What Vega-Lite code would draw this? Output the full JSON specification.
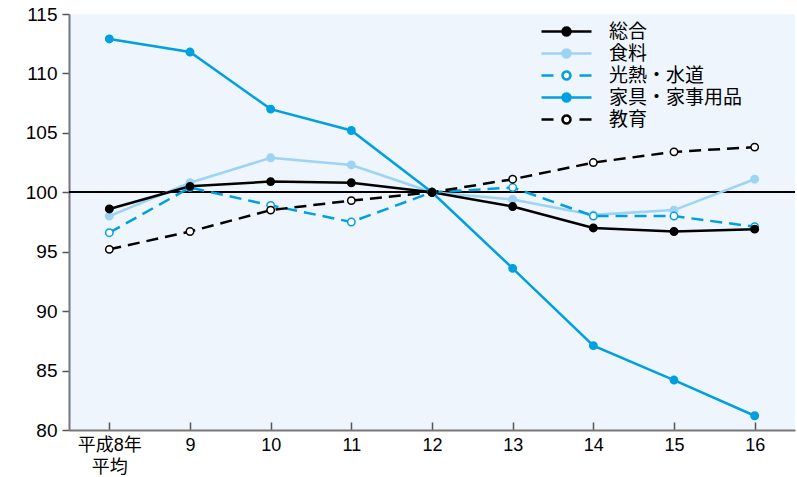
{
  "$schema": "https://vega.github.io/schema/vega-lite/v6.json",
  "width": 726,
  "height": 416,
  "autosize": {"type": "none"},
  "padding": {"left": 69, "top": 14, "right": 2, "bottom": 47},
  "background": "#ffffff",
  "config": {
    "view": {"fill": "#eef5fc", "stroke": null},
    "font": "Liberation Sans, Noto Sans CJK JP",
    "axis": {"grid": false, "labelColor": "#000000", "domainColor": "#777777", "domainWidth": 2, "tickColor": "#555555", "tickWidth": 1.5}
  },
  "data": {
    "values": [
      {"year": "平成8年平均", "series": "食料", "value": 98.0},
      {"year": "9", "series": "食料", "value": 100.8},
      {"year": "10", "series": "食料", "value": 102.9},
      {"year": "11", "series": "食料", "value": 102.3},
      {"year": "12", "series": "食料", "value": 100.0},
      {"year": "13", "series": "食料", "value": 99.4},
      {"year": "14", "series": "食料", "value": 98.1},
      {"year": "15", "series": "食料", "value": 98.5},
      {"year": "16", "series": "食料", "value": 101.1},
      {"year": "平成8年平均", "series": "光熱・水道", "value": 96.6},
      {"year": "9", "series": "光熱・水道", "value": 100.4},
      {"year": "10", "series": "光熱・水道", "value": 98.9},
      {"year": "11", "series": "光熱・水道", "value": 97.5},
      {"year": "12", "series": "光熱・水道", "value": 100.0},
      {"year": "13", "series": "光熱・水道", "value": 100.4},
      {"year": "14", "series": "光熱・水道", "value": 98.0},
      {"year": "15", "series": "光熱・水道", "value": 98.0},
      {"year": "16", "series": "光熱・水道", "value": 97.1},
      {"year": "平成8年平均", "series": "家具・家事用品", "value": 112.9},
      {"year": "9", "series": "家具・家事用品", "value": 111.8},
      {"year": "10", "series": "家具・家事用品", "value": 107.0},
      {"year": "11", "series": "家具・家事用品", "value": 105.2},
      {"year": "12", "series": "家具・家事用品", "value": 100.0},
      {"year": "13", "series": "家具・家事用品", "value": 93.6},
      {"year": "14", "series": "家具・家事用品", "value": 87.1},
      {"year": "15", "series": "家具・家事用品", "value": 84.2},
      {"year": "16", "series": "家具・家事用品", "value": 81.2},
      {"year": "平成8年平均", "series": "教育", "value": 95.2},
      {"year": "9", "series": "教育", "value": 96.7},
      {"year": "10", "series": "教育", "value": 98.5},
      {"year": "11", "series": "教育", "value": 99.3},
      {"year": "12", "series": "教育", "value": 100.0},
      {"year": "13", "series": "教育", "value": 101.1},
      {"year": "14", "series": "教育", "value": 102.5},
      {"year": "15", "series": "教育", "value": 103.4},
      {"year": "16", "series": "教育", "value": 103.8},
      {"year": "平成8年平均", "series": "総合", "value": 98.6},
      {"year": "9", "series": "総合", "value": 100.5},
      {"year": "10", "series": "総合", "value": 100.9},
      {"year": "11", "series": "総合", "value": 100.8},
      {"year": "12", "series": "総合", "value": 100.0},
      {"year": "13", "series": "総合", "value": 98.8},
      {"year": "14", "series": "総合", "value": 97.0},
      {"year": "15", "series": "総合", "value": 96.7},
      {"year": "16", "series": "総合", "value": 96.9}
    ]
  },
  "encoding": {
    "x": {
      "field": "year", "type": "ordinal",
      "sort": ["平成8年平均", "9", "10", "11", "12", "13", "14", "15", "16"],
      "scale": {"type": "point", "padding": 0.5},
      "axis": {"title": null, "labelAngle": 0, "labelFontSize": 18, "tickSize": -8, "labelPadding": 14, "labelLineHeight": 22,
               "labelExpr": "datum.value == '平成8年平均' ? ['平成8年', '平均'] : datum.value"}
    },
    "y": {
      "field": "value", "type": "quantitative",
      "scale": {"domain": [80, 115], "nice": false, "zero": false},
      "axis": {"title": null, "values": [80, 85, 90, 95, 100, 105, 110, 115], "labelFontSize": 19, "tickSize": 7, "labelPadding": 5}
    }
  },
  "layer": [
    {
      "mark": {"type": "rule", "color": "#000000", "strokeWidth": 1},
      "encoding": {"x": null, "y": {"datum": 100}}
    },
    {
      "transform": [{"filter": "datum.series != '光熱・水道' && datum.series != '教育'"}],
      "mark": {"type": "line", "strokeWidth": 2.5},
      "encoding": {
        "color": {
          "field": "series", "type": "nominal",
          "scale": {"domain": ["総合", "食料", "光熱・水道", "家具・家事用品", "教育"], "range": ["#000000", "#9dd3f3", "#00a0e0", "#00a0e0", "#000000"]},
          "legend": {
            "title": null, "orient": "none", "legendX": 486, "legendY": 6, "padding": 0,
            "symbolSize": 400, "labelOffset": 31, "labelFontSize": 19, "labelFont": "Noto Sans CJK JP", "labelColor": "#000000", "rowPadding": 0,
            "symbolDash": [1, 0],
            "encode": {"symbols": {"update": {
              "shape": {"signal": "indexof(['光熱・水道','教育'], datum.value) >= 0 ? 'M-2.5,0H-1.3M1.3,0H2.5M0.4,0L0.37,0.153L0.283,0.283L0.153,0.37L0,0.4L-0.153,0.37L-0.283,0.283L-0.37,0.153L-0.4,0L-0.37,-0.153L-0.283,-0.283L-0.153,-0.37L0,-0.4L0.153,-0.37L0.283,-0.283L0.37,-0.153Z' : 'M-2.5,0H2.5M0.4,0L0.37,0.153L0.283,0.283L0.153,0.37L0,0.4L-0.153,0.37L-0.283,0.283L-0.37,0.153L-0.4,0L-0.37,-0.153L-0.283,-0.283L-0.153,-0.37L0,-0.4L0.153,-0.37L0.283,-0.283L0.37,-0.153Z'"},
              "fill": {"signal": "indexof(['光熱・水道','教育'], datum.value) >= 0 ? '#ffffff' : scale('color', datum.value)"},
              "stroke": {"signal": "scale('color', datum.value)"},
              "strokeDash": {"value": [1, 0]},
              "strokeWidth": {"value": 2.5},
              "opacity": {"value": 1}
            }}}
          }
        }
      }
    },
    {
      "transform": [{"filter": "datum.series == '光熱・水道' || datum.series == '教育'"}],
      "mark": {"type": "line", "strokeWidth": 2.5, "strokeDash": [12, 7]},
      "encoding": {
        "color": {"field": "series", "type": "nominal"}
      }
    },
    {
      "mark": {"type": "point", "shape": "circle", "size": 55, "strokeWidth": 1.5, "opacity": 1, "fillOpacity": 1},
      "encoding": {
        "color": {"field": "series", "type": "nominal"},
        "fill": {
          "field": "series", "type": "nominal",
          "scale": {"domain": ["総合", "食料", "光熱・水道", "家具・家事用品", "教育"], "range": ["#000000", "#9dd3f3", "#ffffff", "#00a0e0", "#ffffff"]},
          "legend": null
        }
      }
    }
  ]
}
